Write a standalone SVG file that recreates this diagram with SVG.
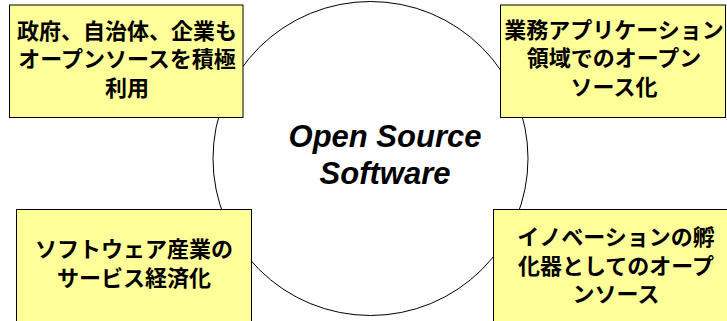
<svg xmlns="http://www.w3.org/2000/svg" width="727" height="321" viewBox="0 0 727 321">
<style>
.box{fill:#FFFF99;stroke:#000;stroke-width:1}
.jp{font-family:"Liberation Sans","Noto Sans CJK JP",sans-serif;font-weight:bold;font-size:22px;fill:#000;text-anchor:middle}
.en{font-family:"Liberation Sans",Arial,sans-serif;font-weight:bold;font-style:italic;font-size:31px;fill:#000;text-anchor:middle}
</style>
<rect width="727" height="321" fill="#fff"/>
<g id="center">
<ellipse cx="370.5" cy="158.5" rx="157.5" ry="157" fill="none" stroke="#000" stroke-width="1"/>
<text class="en" x="385" y="147">Open Source</text>
<text class="en" x="385" y="184">Software</text>
</g>
<g id="box-top-left">
<rect class="box" x="9.5" y="5" width="233.5" height="112.5"/>
<text class="jp" x="127" y="39">政府、自治体、企業も</text>
<text class="jp" x="127" y="67">オープンソースを積極</text>
<text class="jp" x="127" y="96">利用</text>
</g>
<g id="box-top-right">
<rect class="box" x="500.5" y="5" width="225" height="112.5"/>
<text class="jp" x="614" y="38">業務アプリケーション</text>
<text class="jp" x="614" y="66">領域でのオープン</text>
<text class="jp" x="614" y="95">ソース化</text>
</g>
<g id="box-bottom-left">
<rect class="box" x="16.5" y="209.5" width="235" height="120"/>
<text class="jp" x="134" y="257">ソフトウェア産業の</text>
<text class="jp" x="134" y="286">サービス経済化</text>
</g>
<g id="box-bottom-right">
<rect class="box" x="493.5" y="209.5" width="250" height="120"/>
<text class="jp" x="616" y="245">イノベーションの孵</text>
<text class="jp" x="616" y="274">化器としてのオープ</text>
<text class="jp" x="616" y="302">ンソース</text>
</g>
<g id="connectors"/>
</svg>
